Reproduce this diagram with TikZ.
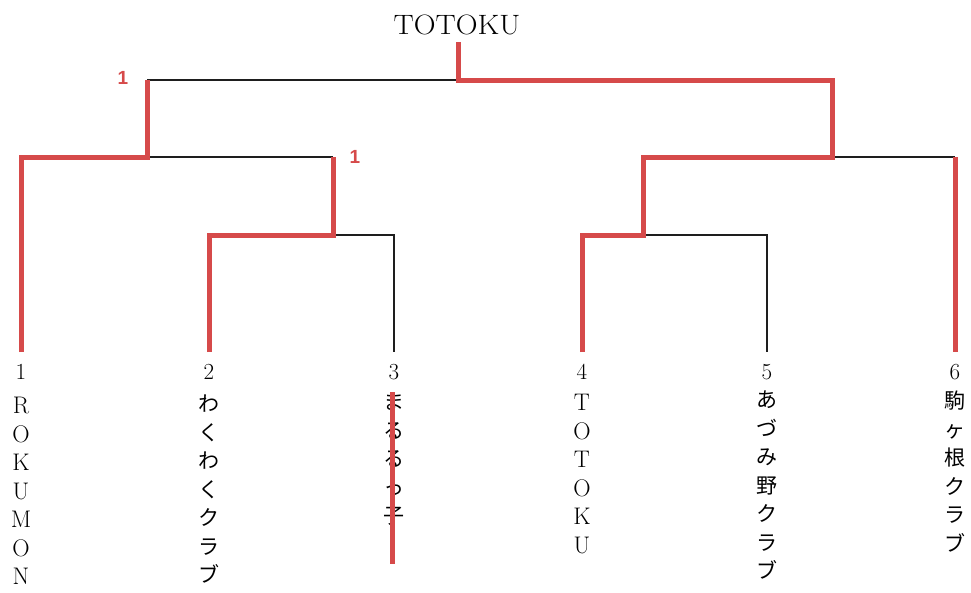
\documentclass[tikz,border=0pt]{standalone}
\usepackage{fontspec}
\newfontfamily\jpfont{Noto Sans CJK JP}
\newfontfamily\lblfont{Liberation Sans}
\definecolor{winred}{RGB}{214,74,74}
\definecolor{lossblk}{RGB}{30,30,30}
\begin{document}
\begin{tikzpicture}[x=1pt,y=-1pt,
  winline/.style={draw=winred,line width=5pt,line join=miter},
  lossline/.style={draw=lossblk,line width=2pt},
  seednum/.style={inner sep=0pt,font=\fontsize{23}{23}\selectfont},
  teamname/.style={inner sep=0pt,anchor=north,align=center,font=\fontsize{24}{28.5}\selectfont},
  jpname/.style={teamname,font=\jpfont\fontsize{21}{28.5}\selectfont},
  scorelbl/.style={inner sep=0pt,text=winred,font=\lblfont\bfseries\fontsize{19}{19}\selectfont}]
\useasboundingbox (0,0) rectangle (971,592);
\fill[white] (0,0) rectangle (971,592);

% leaf tops
\coordinate (l1) at (21,352);
\coordinate (l2) at (209,352);
\coordinate (l3) at (394,352);
\coordinate (l4) at (582,352);
\coordinate (l5) at (767,352);
\coordinate (l6) at (955,352);
% bracket corners
\coordinate (a2) at (209,235);
\coordinate (a3) at (394,235);
\coordinate (m23) at (333,235);
\coordinate (m23t) at (333,157);
\coordinate (a1) at (21,157);
\coordinate (m1) at (147,157);
\coordinate (m1t) at (147,80);
\coordinate (a4) at (582,235);
\coordinate (a5) at (767,235);
\coordinate (m45) at (643,235);
\coordinate (m45t) at (643,157);
\coordinate (a6) at (955,157);
\coordinate (m6) at (832,157);
\coordinate (m6t) at (832,80);
\coordinate (fin) at (458,80);

% title
\node[inner sep=0pt,font=\fontsize{28}{28}\selectfont] (title) at (457,25) {\scalebox{1.08}[1]{TOTOKU}};
\coordinate (fint) at (458,42);

% loser lines
\draw[lossline] (m23) -- (a3) -- (l3);
\draw[lossline] (m1) -- (m23t);
\draw[lossline] (m1t) -- (fin);
\draw[lossline] (m45) -- (a5) -- (l5);
\draw[lossline] (m6) -- (a6);

% winner lines
\draw[winline] (l2) -- (a2) -- (m23) -- (m23t);
\draw[winline] (l1) -- (a1) -- (m1) -- (m1t);
\draw[winline] (l4) -- (a4) -- (m45) -- (m45t) -- (m6) -- (m6t) -- (fin) -- (fint);
\draw[winline] (a6) -- (l6);

% score labels
\node[scorelbl] (s1) at (123,78) {1};
\node[scorelbl] (s2) at (355,157) {1};

% seed numbers
\node[seednum] (n1) at (21,372) {1};
\node[seednum] (n2) at (209,372) {2};
\node[seednum] (n3) at (394,372) {3};
\node[seednum] (n4) at (582,372) {4};
\node[seednum] (n5) at (767,372) {5};
\node[seednum] (n6) at (955,372) {6};

% team names
\node[teamname] (t1) at (21,397) {R\\O\\K\\U\\M\\O\\N};
\node[jpname] (t2) at (209,395) {わ\\く\\わ\\く\\ク\\ラ\\ブ};
\node[jpname] (t3) at (394,393) {ま\\る\\る\\っ\\子};
\node[teamname] (t4) at (582,394) {T\\O\\T\\O\\K\\U};
\node[jpname] (t5) at (767,391) {あ\\づ\\み\\野\\ク\\ラ\\ブ};
\node[jpname] (t6) at (955,391) {駒\\ヶ\\根\\ク\\ラ\\ブ};

% strike-through of team 3
\coordinate (st) at (392,392);
\coordinate (sb) at (392,564);
\draw[winline] (st) -- (sb);
\end{tikzpicture}
\end{document}
